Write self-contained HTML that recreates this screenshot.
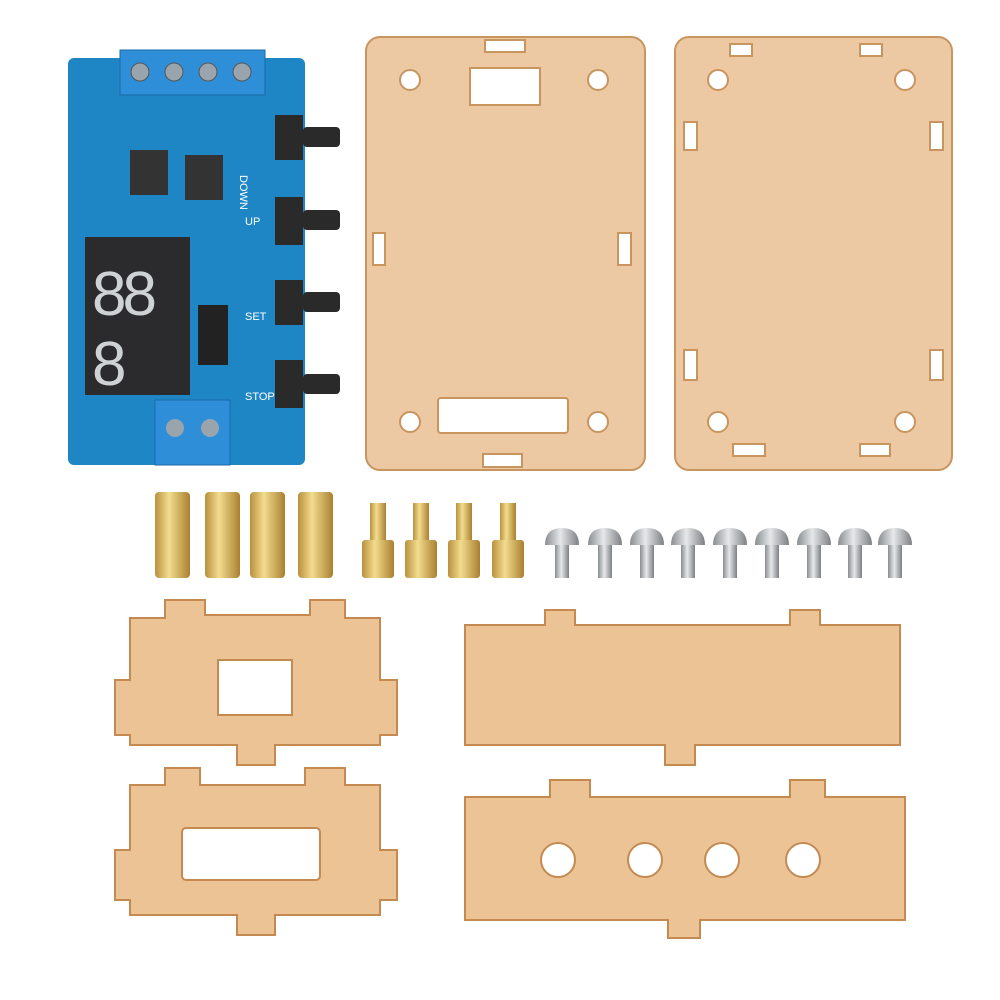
<!DOCTYPE html>
<html><head><meta charset="utf-8"><style>
html,body{margin:0;padding:0;background:#fff;}
svg{display:block;font-family:"Liberation Sans",sans-serif;}
</style></head><body>
<svg width="1000" height="1000" viewBox="0 0 1000 1000" xmlns="http://www.w3.org/2000/svg">
<defs>
<linearGradient id="brass" x1="0" x2="1"><stop offset="0" stop-color="#b8913e"/><stop offset=".4" stop-color="#f3dc8e"/><stop offset="1" stop-color="#a98030"/></linearGradient>
<linearGradient id="steel" x1="0" x2="1"><stop offset="0" stop-color="#8a8d90"/><stop offset=".45" stop-color="#e6e8ea"/><stop offset="1" stop-color="#7d8083"/></linearGradient>
</defs>
<!-- PCB -->
<rect x="68" y="58" width="237" height="407" rx="6" fill="#1f86c6"/>
<rect x="120" y="50" width="145" height="45" fill="#2e8fd8" stroke="#1a6aa8"/>
<g fill="#9aa4ad" stroke="#555"><circle cx="140" cy="72" r="9"/><circle cx="174" cy="72" r="9"/><circle cx="208" cy="72" r="9"/><circle cx="242" cy="72" r="9"/></g>
<rect x="85" y="237" width="105" height="158" fill="#2b2b2d"/>
<text x="92" y="315" font-size="62" fill="#cfd2d4" letter-spacing="-4">88</text>
<text x="92" y="385" font-size="62" fill="#cfd2d4">8</text>
<rect x="130" y="150" width="38" height="45" fill="#333"/><rect x="185" y="155" width="38" height="45" fill="#333"/>
<rect x="198" y="305" width="30" height="60" fill="#222"/>
<rect x="155" y="400" width="75" height="65" fill="#2e8fd8" stroke="#1a6aa8"/>
<circle cx="175" cy="428" r="9" fill="#9aa4ad"/><circle cx="210" cy="428" r="9" fill="#9aa4ad"/>
<g fill="#fff" font-size="11"><text x="240" y="175" transform="rotate(90 240 175)">DOWN</text><text x="245" y="225">UP</text><text x="245" y="320">SET</text><text x="245" y="400">STOP</text></g>
<g fill="#2a2a2a"><rect x="275" y="115" width="28" height="45"/><rect x="275" y="197" width="28" height="48"/><rect x="275" y="280" width="28" height="45"/><rect x="275" y="360" width="28" height="48"/>
<rect x="303" y="127" width="37" height="20" rx="4"/><rect x="303" y="210" width="37" height="20" rx="4"/><rect x="303" y="292" width="37" height="20" rx="4"/><rect x="303" y="374" width="37" height="20" rx="4"/></g>
<!-- Panels -->
<g fill="#ecc9a2" stroke="#c9955f" stroke-width="2">
<rect x="366" y="37" width="279" height="433" rx="14"/>
<rect x="675" y="37" width="277" height="433" rx="14"/>
</g>
<g fill="#fff" stroke="#c9955f" stroke-width="2">
<rect x="485" y="40" width="40" height="12"/><rect x="470" y="68" width="70" height="37"/>
<circle cx="410" cy="80" r="10"/><circle cx="598" cy="80" r="10"/>
<rect x="373" y="233" width="12" height="32"/><rect x="618" y="233" width="13" height="32"/>
<rect x="438" y="398" width="130" height="35" rx="3"/><circle cx="410" cy="422" r="10"/><circle cx="598" cy="422" r="10"/>
<rect x="483" y="454" width="39" height="13"/>
<rect x="730" y="44" width="22" height="12"/><rect x="860" y="44" width="22" height="12"/>
<circle cx="718" cy="80" r="10"/><circle cx="905" cy="80" r="10"/>
<rect x="684" y="122" width="13" height="28"/><rect x="930" y="122" width="13" height="28"/>
<rect x="684" y="350" width="13" height="30"/><rect x="930" y="350" width="13" height="30"/>
<rect x="733" y="444" width="32" height="12"/><rect x="860" y="444" width="30" height="12"/>
<circle cx="718" cy="422" r="10"/><circle cx="905" cy="422" r="10"/>
</g>
<!-- standoffs -->
<g fill="url(#brass)">
<rect x="155" y="492" width="35" height="86" rx="4"/><rect x="205" y="492" width="35" height="86" rx="4"/>
<rect x="250" y="492" width="35" height="86" rx="4"/><rect x="298" y="492" width="35" height="86" rx="4"/>
<rect x="370" y="503" width="16" height="38"/><rect x="362" y="540" width="32" height="38" rx="3"/>
<rect x="413" y="503" width="16" height="38"/><rect x="405" y="540" width="32" height="38" rx="3"/>
<rect x="456" y="503" width="16" height="38"/><rect x="448" y="540" width="32" height="38" rx="3"/>
<rect x="500" y="503" width="16" height="38"/><rect x="492" y="540" width="32" height="38" rx="3"/>
</g>
<!-- screws -->
<g fill="url(#steel)">
<path d="M545 545 Q545 528 562 528 Q579 528 579 545Z"/><rect x="555" y="545" width="14" height="33"/>
<path d="M588 545 Q588 528 605 528 Q622 528 622 545Z"/><rect x="598" y="545" width="14" height="33"/>
<path d="M630 545 Q630 528 647 528 Q664 528 664 545Z"/><rect x="640" y="545" width="14" height="33"/>
<path d="M671 545 Q671 528 688 528 Q705 528 705 545Z"/><rect x="681" y="545" width="14" height="33"/>
<path d="M713 545 Q713 528 730 528 Q747 528 747 545Z"/><rect x="723" y="545" width="14" height="33"/>
<path d="M755 545 Q755 528 772 528 Q789 528 789 545Z"/><rect x="765" y="545" width="14" height="33"/>
<path d="M797 545 Q797 528 814 528 Q831 528 831 545Z"/><rect x="807" y="545" width="14" height="33"/>
<path d="M838 545 Q838 528 855 528 Q872 528 872 545Z"/><rect x="848" y="545" width="14" height="33"/>
<path d="M878 545 Q878 528 895 528 Q912 528 912 545Z"/><rect x="888" y="545" width="14" height="33"/>
</g>
<!-- small pieces -->
<g fill="#ebc395" stroke="#c48a52" stroke-width="2">
<path d="M165 600H205V615H310V600H345V618H380V680H397V735H380V745H275V765H237V745H130V735H115V680H130V618H165Z"/>
<path d="M165 768H200V785H305V768H345V785H380V850H397V900H380V915H275V935H237V915H130V900H115V850H130V785H165Z"/>
<path d="M465 625H545V610H575V625H790V610H820V625H900V745H695V765H665V745H465Z"/>
<path d="M465 797H550V780H590V797H790V780H825V797H905V920H700V938H668V920H465Z"/>
</g>
<g fill="#fff" stroke="#c48a52" stroke-width="2">
<rect x="218" y="660" width="74" height="55"/>
<rect x="182" y="828" width="138" height="52" rx="4"/>
<circle cx="558" cy="860" r="17"/><circle cx="645" cy="860" r="17"/><circle cx="722" cy="860" r="17"/><circle cx="803" cy="860" r="17"/>
</g>
</svg>
</body></html>
